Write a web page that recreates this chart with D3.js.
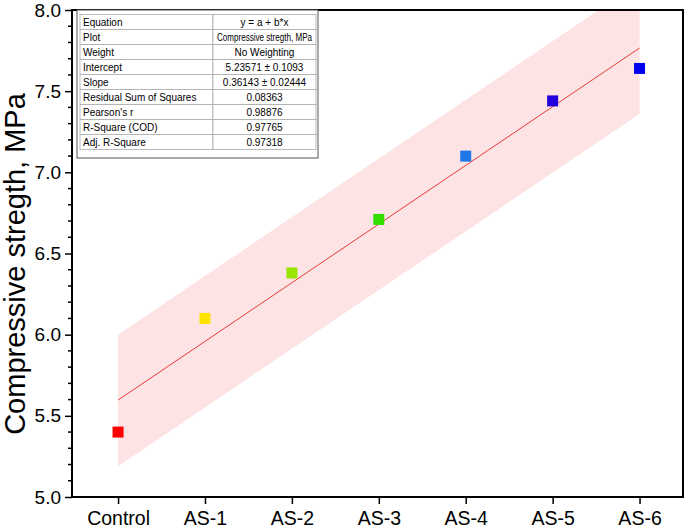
<!DOCTYPE html>
<html>
<head>
<meta charset="utf-8">
<script src="https://cdn.jsdelivr.net/npm/d3@7"></script>
<style>
  body { margin: 0; background: #fff; }
  text { font-family: "Liberation Sans", Arial, sans-serif; }
</style>
</head>
<body>
<script>
// Data
var categories = ["Control", "AS-1", "AS-2", "AS-3", "AS-4", "AS-5", "AS-6"];
var strength = [5.40, 6.10, 6.38, 6.71, 7.10, 7.44, 7.64];
var pointColors = ["#ff0000", "#ffe400", "#99e600", "#33dd00", "#1e78e6", "#2200dd", "#0000ee"];
var yTicks = [5.0, 5.5, 6.0, 6.5, 7.0, 7.5, 8.0];

// linear fit (from the table) and prediction band ends
var intercept = 5.23571, slope = 0.36143;
var bandX = [1, 7];
var bandLower = [5.19, 7.36];
var bandUpper = [6.00, 8.17];

var tableLabels = ["Equation", "Plot", "Weight", "Intercept", "Slope", "Residual Sum of Squares",
                   "Pearson's r", "R-Square (COD)", "Adj. R-Square"];
var tableValues = ["y = a + b*x", "Compressive stregth, MPa", "No Weighting", "5.23571 \u00b1 0.1093",
                   "0.36143 \u00b1 0.02444", "0.08363", "0.98876", "0.97765", "0.97318"];

var W = 685, H = 532;
var pl = 72, pr = 683, pt = 10, pb = 497;

var svg = d3.select("body").append("svg")
    .attr("width", W)
    .attr("height", H);

var x = d3.scaleLinear().domain([0.47, 7.5]).range([pl, pr]);
var y = d3.scaleLinear().domain([5, 8]).range([pb, pt]);

svg.append("clipPath").attr("id", "clip")
  .append("rect")
    .attr("x", pl).attr("y", pt)
    .attr("width", pr - pl).attr("height", pb - pt);

var plot = svg.append("g").attr("clip-path", "url(#clip)");

// prediction band
var bandData = bandX.map(function(d, i) { return {x: d, lo: bandLower[i], hi: bandUpper[i]}; });
plot.append("path")
    .datum(bandData)
    .attr("fill", "#fde3e3")
    .attr("d", d3.area()
        .x(function(d) { return x(d.x); })
        .y0(function(d) { return y(d.lo); })
        .y1(function(d) { return y(d.hi); }));

// fit line
plot.append("line")
    .attr("x1", x(1)).attr("y1", y(intercept + slope * 1))
    .attr("x2", x(7)).attr("y2", y(intercept + slope * 7))
    .attr("stroke", "#e63c3c")
    .attr("stroke-width", 1);

// points
svg.selectAll(".pt")
  .data(strength)
  .enter().append("rect")
    .attr("class", "pt")
    .attr("x", function(d, i) { return x(i + 1) - 5.5; })
    .attr("y", function(d) { return y(d) - 5.5; })
    .attr("width", 11)
    .attr("height", 11)
    .attr("fill", function(d, i) { return pointColors[i]; });

// frame
svg.append("rect")
    .attr("x", pl).attr("y", pt)
    .attr("width", pr - pl).attr("height", pb - pt)
    .attr("fill", "none")
    .attr("stroke", "#000")
    .attr("stroke-width", 2);

// y axis
var yAxis = svg.append("g")
    .attr("transform", "translate(" + pl + ",0)")
    .call(d3.axisLeft(y).tickValues(yTicks).tickFormat(d3.format(".1f")).tickSize(7).tickSizeOuter(0));
yAxis.select(".domain").remove();
yAxis.selectAll("line").attr("stroke-width", 1.5);
yAxis.selectAll("text").attr("font-size", 19).attr("x", -11).attr("fill", "#000")
    .attr("font-family", "Liberation Sans, Arial, sans-serif");

var minor = d3.range(50, 80).filter(function(d) { return d % 5 !== 0; }).map(function(d) { return d / 10; });
svg.append("g").selectAll("line")
  .data(minor)
  .enter().append("line")
    .attr("x1", pl - 4).attr("x2", pl)
    .attr("y1", function(d) { return y(d); })
    .attr("y2", function(d) { return y(d); })
    .attr("stroke", "#000")
    .attr("stroke-width", 1.5);

// x axis
var xAxis = svg.append("g")
    .attr("transform", "translate(0," + pb + ")")
    .call(d3.axisBottom(x).tickValues(d3.range(1, 8))
        .tickFormat(function(d) { return categories[d - 1]; })
        .tickSize(7).tickSizeOuter(0));
xAxis.select(".domain").remove();
xAxis.selectAll("line").attr("stroke-width", 1.5);
xAxis.selectAll("text").attr("font-size", 19.5).attr("y", 14).attr("fill", "#000")
    .attr("font-family", "Liberation Sans, Arial, sans-serif");

// y label
svg.append("text")
    .attr("transform", "translate(25,264) rotate(-90)")
    .attr("text-anchor", "middle")
    .attr("font-size", 29)
    .text("Compressive stregth, MPa");

// stats table
var tx = 80, tw1 = 133, tw2 = 103, rowH = 15, ty = 14.5;
var table = svg.append("g");
table.append("rect")
    .attr("x", 77).attr("y", pt)
    .attr("width", 241).attr("height", 148)
    .attr("fill", "#fff")
    .attr("stroke", "#555")
    .attr("stroke-width", 1);

var rows = table.selectAll(".row")
  .data(tableLabels)
  .enter().append("g")
    .attr("class", "row")
    .attr("transform", function(d, i) { return "translate(" + tx + "," + (ty + i * rowH) + ")"; });

rows.append("rect")
    .attr("width", tw1).attr("height", rowH)
    .attr("fill", "#fff").attr("stroke", "#aaa").attr("stroke-width", 0.8);
rows.append("rect")
    .attr("x", tw1)
    .attr("width", tw2).attr("height", rowH)
    .attr("fill", "#fff").attr("stroke", "#aaa").attr("stroke-width", 0.8);
rows.append("text")
    .attr("x", 3).attr("y", rowH / 2 + 3.6)
    .attr("font-size", 10)
    .text(function(d) { return d; });
rows.append("text")
    .attr("x", tw1 + tw2 / 2).attr("y", rowH / 2 + 3.6)
    .attr("text-anchor", "middle")
    .attr("font-size", 10)
    .text(function(d, i) { return tableValues[i]; })
    .each(function() {
      // squeeze values that would overflow the cell
      var w = this.getComputedTextLength();
      if (w > tw2 - 6) {
        d3.select(this).attr("textLength", tw2 - 8).attr("lengthAdjust", "spacingAndGlyphs");
      }
    });
</script>
</body>
</html>
